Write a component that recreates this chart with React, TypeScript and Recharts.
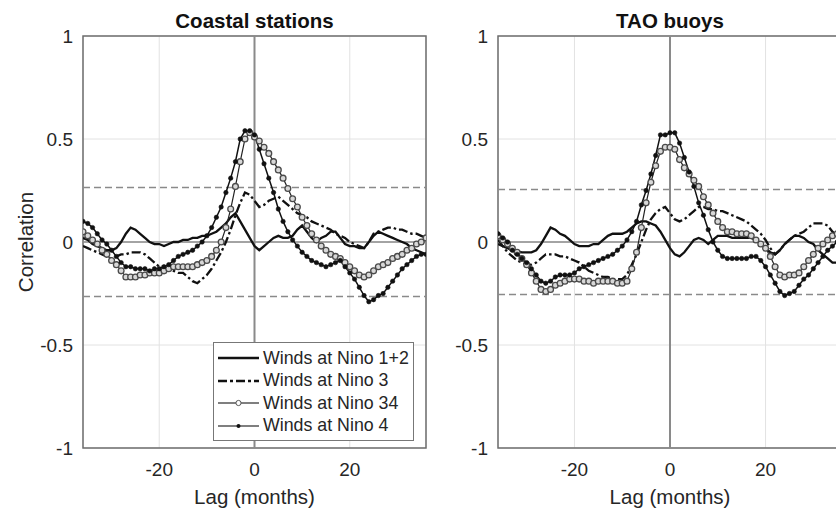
import {
  LineChart,
  Line,
  XAxis,
  YAxis,
  CartesianGrid,
  ReferenceLine,
  ReferenceArea,
  Legend,
} from "recharts";

const FONT = '"Liberation Sans", Arial, Helvetica, sans-serif';
const TEXT = "#262626";

// lag in months, -36 .. 36
const LAGS = Array.from({ length: 73 }, (_, i) => i - 36);

// Coastal stations
const COASTAL_N12 = [
  0.02, 0.01, -0.01, -0.02, -0.03, -0.04, -0.04, -0.03, 0.0, 0.04, 0.07, 0.06, 0.04, 0.02, 0.0, -0.01, -0.01, -0.02,
  -0.01, 0.0, 0.0, 0.01, 0.01, 0.02, 0.02, 0.03, 0.03, 0.04, 0.05, 0.07, 0.09, 0.12, 0.14, 0.1, 0.06, 0.02, -0.02,
  -0.04, -0.02, 0.0, 0.02, 0.03, 0.02, 0.02, 0.03, 0.06, 0.08, 0.05, 0.02, 0.0, 0.02, 0.03, 0.05, 0.05, 0.02, -0.01,
  -0.02, -0.02, -0.03, -0.03, 0.0, 0.03, 0.05, 0.04, 0.03, 0.02, 0.01, 0.0, -0.01, -0.03, -0.04, -0.05, -0.06,
];
const COASTAL_N3 = [
  -0.02, -0.03, -0.04, -0.05, -0.06, -0.07, -0.08, -0.07, -0.06, -0.06, -0.05, -0.05, -0.05, -0.06, -0.08, -0.1, -0.12,
  -0.12, -0.13, -0.14, -0.15, -0.15, -0.17, -0.19, -0.2, -0.18, -0.16, -0.13, -0.09, -0.05, 0.0, 0.06, 0.13, 0.19,
  0.24, 0.23, 0.2, 0.17, 0.18, 0.2, 0.21, 0.22, 0.2, 0.18, 0.16, 0.14, 0.13, 0.12, 0.1, 0.09, 0.08, 0.07, 0.06, 0.04,
  0.03, 0.02, 0.0, -0.01, -0.02, -0.03, 0.0, 0.04, 0.05, 0.06, 0.07, 0.07, 0.06, 0.06, 0.05, 0.04, 0.04, 0.03, 0.02,
];
const COASTAL_N34 = [
  0.05, 0.03, 0.01, -0.01, -0.04, -0.06, -0.09, -0.11, -0.14, -0.17, -0.17, -0.17, -0.16, -0.16, -0.15, -0.15, -0.15,
  -0.14, -0.13, -0.12, -0.12, -0.12, -0.12, -0.12, -0.11, -0.1, -0.09, -0.07, -0.04, 0.0, 0.07, 0.16, 0.27, 0.39, 0.5,
  0.53, 0.51, 0.49, 0.46, 0.43, 0.39, 0.35, 0.31, 0.26, 0.21, 0.17, 0.12, 0.08, 0.04, 0.01, -0.02, -0.04, -0.06, -0.07,
  -0.08, -0.1, -0.12, -0.14, -0.16, -0.17, -0.16, -0.14, -0.12, -0.11, -0.1, -0.08, -0.07, -0.06, -0.04, -0.03, -0.01,
  0.0, 0.02,
];
const COASTAL_N4 = [
  0.1, 0.09, 0.07, 0.04, 0.01, -0.01, -0.04, -0.07, -0.1, -0.12, -0.12, -0.13, -0.13, -0.13, -0.14, -0.13, -0.13,
  -0.12, -0.11, -0.09, -0.07, -0.06, -0.05, -0.04, -0.02, 0.0, 0.03, 0.07, 0.12, 0.17, 0.24, 0.31, 0.39, 0.5, 0.54,
  0.54, 0.52, 0.45, 0.38, 0.31, 0.24, 0.16, 0.1, 0.05, 0.01, -0.02, -0.05, -0.07, -0.09, -0.1, -0.11, -0.12, -0.11,
  -0.1, -0.09, -0.12, -0.15, -0.18, -0.22, -0.26, -0.29, -0.28, -0.26, -0.25, -0.22, -0.19, -0.16, -0.13, -0.11, -0.09,
  -0.07, -0.06, -0.06,
];

// TAO buoys
const TAO_N12 = [
  -0.01, -0.02, -0.03, -0.04, -0.045, -0.05, -0.05, -0.05, -0.04, -0.01, 0.03, 0.07, 0.06, 0.04, 0.03, 0.01, -0.01,
  -0.02, -0.02, -0.02, -0.01, -0.01, 0.01, 0.03, 0.04, 0.04, 0.04, 0.05, 0.07, 0.09, 0.1, 0.1, 0.09, 0.08, 0.05, 0.01,
  -0.03, -0.06, -0.07, -0.05, -0.02, 0.01, 0.02, 0.01, -0.01, 0.01, 0.03, 0.03, 0.03, 0.02, 0.02, 0.02, 0.02, 0.02,
  0.01, -0.01, -0.03, -0.05, -0.06, -0.04, -0.01, 0.01, 0.03, 0.03, 0.02, 0.0, -0.01, -0.04, -0.06, -0.08, -0.1, -0.1,
  -0.1,
];
const TAO_N3 = [
  0.01, -0.02, -0.05, -0.07, -0.09, -0.1, -0.11, -0.11, -0.1, -0.08, -0.06, -0.06, -0.06, -0.07, -0.07, -0.08, -0.09,
  -0.1, -0.12, -0.14, -0.15, -0.16, -0.17, -0.17, -0.18, -0.18, -0.18, -0.16, -0.11, -0.06, 0.0, 0.06, 0.11, 0.14,
  0.16, 0.17, 0.14, 0.11, 0.1, 0.11, 0.13, 0.15, 0.17, 0.17, 0.16, 0.16, 0.15, 0.15, 0.14, 0.13, 0.12, 0.11, 0.1, 0.08,
  0.06, 0.04, 0.01, -0.03, -0.06, -0.04, -0.01, 0.01, 0.03, 0.04, 0.05, 0.07, 0.09, 0.09, 0.09, 0.08, 0.05, 0.03, 0.01,
];
const TAO_N34 = [
  0.03, 0.01, -0.01, -0.03, -0.05, -0.08, -0.11, -0.15, -0.19, -0.23, -0.24, -0.23, -0.21, -0.2, -0.19, -0.18, -0.18,
  -0.18, -0.19, -0.19, -0.2, -0.19, -0.19, -0.19, -0.19, -0.2, -0.2, -0.19, -0.13, -0.05, 0.07, 0.19, 0.29, 0.37, 0.44,
  0.46, 0.46, 0.45, 0.4, 0.36, 0.33, 0.3, 0.27, 0.22, 0.18, 0.14, 0.1, 0.07, 0.05, 0.05, 0.04, 0.04, 0.04, 0.03, 0.01,
  -0.01, -0.03, -0.07, -0.12, -0.16, -0.17, -0.16, -0.16, -0.15, -0.12, -0.09, -0.06, -0.03, -0.01, 0.01, 0.03, 0.04,
  0.04,
];
const TAO_N4 = [
  0.04, 0.02, 0.0, -0.04, -0.06, -0.08, -0.1, -0.13, -0.16, -0.19, -0.2, -0.19, -0.17, -0.16, -0.16, -0.16, -0.15,
  -0.13, -0.12, -0.11, -0.1, -0.09, -0.08, -0.07, -0.06, -0.04, -0.02, 0.01, 0.05, 0.1, 0.18, 0.25, 0.33, 0.42, 0.52,
  0.52, 0.53, 0.53, 0.48, 0.41, 0.34, 0.27, 0.19, 0.13, 0.06, 0.0, -0.04, -0.07, -0.08, -0.08, -0.08, -0.08, -0.08,
  -0.07, -0.07, -0.09, -0.12, -0.16, -0.2, -0.24, -0.26, -0.25, -0.24, -0.21, -0.18, -0.16, -0.13, -0.1, -0.07, -0.04,
  -0.02, 0.0, 0.01,
];

const X_TICKS = [-20, 0, 20];
const Y_TICKS = [-1, -0.5, 0, 0.5, 1];

const coastalData = LAGS.map((lag, i) => ({
  lag,
  n12: COASTAL_N12[i],
  n3: COASTAL_N3[i],
  n34: COASTAL_N34[i],
  n4: COASTAL_N4[i],
}));

const taoData = LAGS.map((lag, i) => ({
  lag,
  n12: TAO_N12[i],
  n3: TAO_N3[i],
  n34: TAO_N34[i],
  n4: TAO_N4[i],
}));

const SERIES = [
  { key: "n12", name: "Winds at Nino 1+2", stroke: "#111", width: 2.3, dash: undefined, marker: "none" },
  { key: "n3", name: "Winds at Nino 3", stroke: "#111", width: 2.3, dash: "9 3 2.5 3", marker: "none" },
  { key: "n34", name: "Winds at Nino 34", stroke: "#222", width: 1.2, dash: undefined, marker: "circle" },
  { key: "n4", name: "Winds at Nino 4", stroke: "#111", width: 1.5, dash: undefined, marker: "dot" },
];

function dotFor(marker: string) {
  if (marker === "circle") return { r: 2.9, stroke: "#4a4a4a", strokeWidth: 1.3, fill: "#d8d8d8" };
  if (marker === "dot") return { r: 2.2, stroke: "#111", strokeWidth: 0.6, fill: "#111" };
  return false;
}

function LegendBox() {
  return (
    <div
      style={{
        width: 199,
        height: 93,
        border: "1px solid #777",
        background: "#fff",
        paddingTop: 4,
        boxSizing: "content-box",
        fontFamily: FONT,
        fontSize: 17.8,
        color: TEXT,
      }}
    >
      {SERIES.map((s) => (
        <div key={s.key} style={{ display: "flex", alignItems: "center", height: 22.5 }}>
          <svg width={46} height={12} style={{ marginLeft: 3, flex: "none" }}>
            <line
              x1={1}
              y1={6}
              x2={42}
              y2={6}
              stroke={s.marker === "none" ? "#111" : "#555"}
              strokeWidth={s.marker === "none" ? 2.5 : 1.5}
              strokeDasharray={s.dash ? "9 3 3 3" : undefined}
            />
            {s.marker === "circle" && <circle cx={21.5} cy={6} r={2.6} stroke="#555" strokeWidth={1} fill="#fff" />}
            {s.marker === "dot" && <circle cx={21.5} cy={6} r={2} fill="#111" />}
          </svg>
          <span style={{ whiteSpace: "nowrap" }}>{s.name}</span>
        </div>
      ))}
    </div>
  );
}

interface PanelProps {
  data: typeof coastalData;
  title: string;
  left: number;
  yAxisWidth: number;
  sig: number;
  showYLabel?: boolean;
  showLegend?: boolean;
}

const CHART_W = 430;
const CHART_H = 512;
const MARGIN = { top: 36, right: 4, bottom: 0, left: 0 };

function Panel({ data, title, left, yAxisWidth, sig, showYLabel, showLegend }: PanelProps) {
  const plotLeft = yAxisWidth;
  const plotWidth = CHART_W - yAxisWidth - MARGIN.right;
  return (
    <div style={{ position: "absolute", left, top: 0, width: CHART_W, height: CHART_H }}>
      <div
        style={{
          position: "absolute",
          left: plotLeft,
          top: 11,
          width: plotWidth,
          textAlign: "center",
          fontFamily: FONT,
          fontWeight: "bold",
          fontSize: 20.5,
          lineHeight: "20px",
          color: "#111",
          whiteSpace: "nowrap",
        }}
      >
        {title}
      </div>
      <LineChart width={CHART_W} height={CHART_H} data={data} margin={MARGIN}>
        <CartesianGrid stroke="#e2e2e2" strokeWidth={1} />
        <ReferenceArea x1={-36} x2={36} y1={-1} y2={1} fill="none" stroke="#6e6e6e" strokeWidth={1.5} />
        <ReferenceLine x={0} stroke="#8a8a8a" strokeWidth={2} />
        <ReferenceLine y={0} stroke="#8a8a8a" strokeWidth={1.5} />
        <ReferenceLine y={sig} stroke="#8a8a8a" strokeWidth={1.5} strokeDasharray="7 4" />
        <ReferenceLine y={-sig} stroke="#8a8a8a" strokeWidth={1.5} strokeDasharray="7 4" />
        <XAxis
          dataKey="lag"
          type="number"
          domain={[-36, 36]}
          ticks={X_TICKS}
          allowDataOverflow
          axisLine={false}
          tickLine={false}
          tickSize={0}
          tickMargin={15}
          height={64}
          tick={{ fill: TEXT, fontSize: 19, fontFamily: FONT }}
          label={{
            value: "Lag (months)",
            content: ({ viewBox }: any) => (
              <text
                x={viewBox.x + viewBox.width / 2}
                y={viewBox.y + 56}
                textAnchor="middle"
                fill={TEXT}
                fontSize={20.5}
                fontFamily={FONT}
              >
                Lag (months)
              </text>
            ),
          }}
        />
        <YAxis
          type="number"
          domain={[-1, 1]}
          ticks={Y_TICKS}
          allowDataOverflow
          axisLine={false}
          tickLine={false}
          tickSize={0}
          tickMargin={10}
          width={yAxisWidth}
          tick={{ fill: TEXT, fontSize: 19, fontFamily: FONT }}
          label={
            showYLabel
              ? {
                  value: "Correlation",
                  content: ({ viewBox }: any) => {
                    const cx = viewBox.x + 28;
                    const cy = viewBox.y + viewBox.height / 2;
                    return (
                      <text
                        x={cx}
                        y={cy}
                        transform={`rotate(-90 ${cx} ${cy})`}
                        textAnchor="middle"
                        dominantBaseline="middle"
                        fill={TEXT}
                        fontSize={20.5}
                        fontFamily={FONT}
                      >
                        Correlation
                      </text>
                    );
                  },
                }
              : undefined
          }
        />
        {SERIES.map((s) => (
          <Line
            key={s.key}
            dataKey={s.key}
            name={s.name}
            type="linear"
            stroke={s.stroke}
            strokeWidth={s.width}
            strokeDasharray={s.dash}
            dot={dotFor(s.marker)}
            activeDot={false}
            isAnimationActive={false}
          />
        ))}
        {showLegend && (
          <Legend
            layout="vertical"
            align="center"
            verticalAlign="middle"
            wrapperStyle={{ left: 213, top: 342, width: 201, height: 98 }}
            content={() => <LegendBox />}
          />
        )}
      </LineChart>
    </div>
  );
}

export default function App() {
  return (
    <div
      style={{
        position: "absolute",
        left: 0,
        top: 0,
        width: 836,
        height: 512,
        overflow: "hidden",
        background: "#fff",
      }}
    >
      <Panel data={coastalData} title="Coastal stations" left={0} yAxisWidth={83} sig={0.265} showYLabel showLegend />
      <Panel data={taoData} title="TAO buoys" left={416} yAxisWidth={82} sig={0.255} />
    </div>
  );
}
